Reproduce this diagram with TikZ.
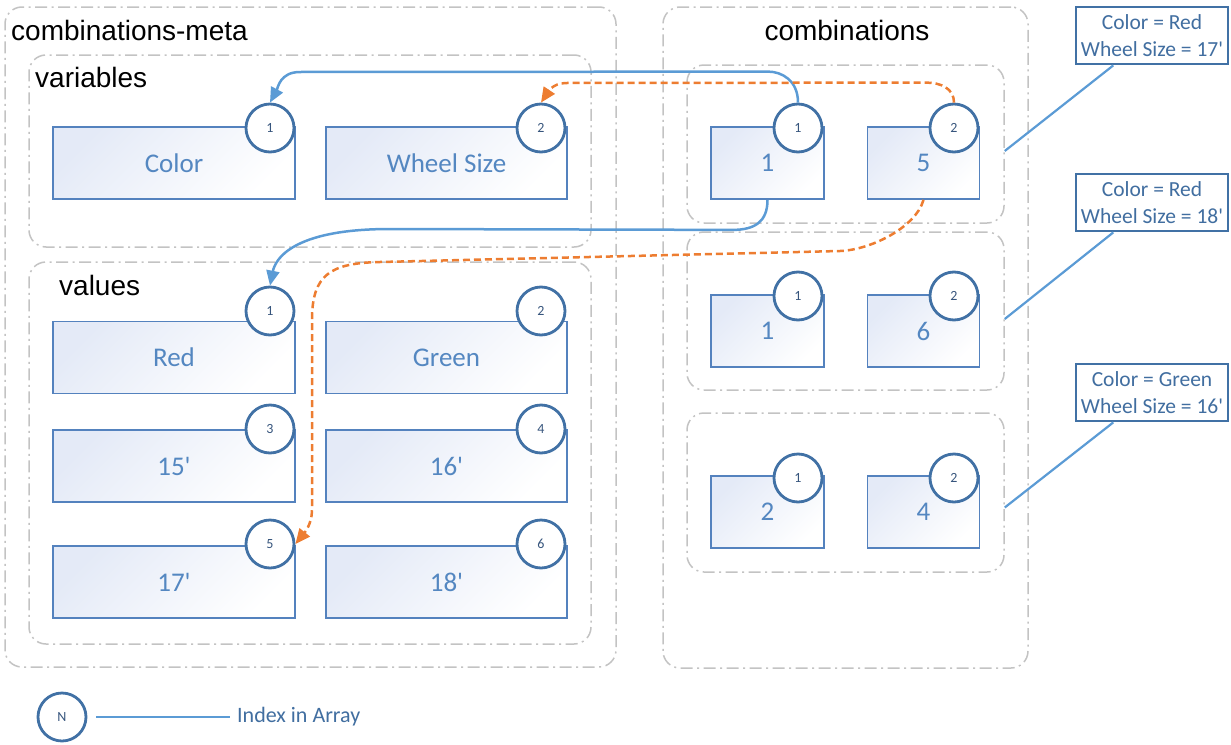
\documentclass[tikz,border=0pt]{standalone}
\usepackage{fontspec}
\setmainfont{Carlito}
\newfontfamily\calf{Carlito}
\newfontfamily\arialf{Liberation Sans}
\usetikzlibrary{arrows.meta,calc}
\definecolor{rectblue}{RGB}{84,130,190}
\definecolor{circblue}{RGB}{65,113,165}
\definecolor{txtblue}{RGB}{84,135,193}
\definecolor{numc}{RGB}{55,85,125}
\definecolor{fillb}{RGB}{228,234,247}
\definecolor{grp}{RGB}{195,195,195}
\definecolor{conblue}{RGB}{91,155,213}
\definecolor{orng}{RGB}{237,125,49}
\definecolor{lbltxt}{RGB}{65,110,160}
\begin{document}
\begin{tikzpicture}[
  x=1pt,y=-1pt,
  grpbox/.style={draw=grp, line width=1.5pt, rounded corners=17pt,
    dash pattern=on 12pt off 4.5pt on 2pt off 4.5pt, inner sep=0pt},
  valbox/.style={draw=rectblue, line width=1.8pt, top color=fillb, bottom color=white,
    shading angle=45, text=txtblue, font=\calf\fontsize{27}{32}\selectfont, inner sep=0pt,
    minimum height=72pt},
  idx/.style={circle, draw=circblue, line width=2.8pt, fill=white, minimum size=48pt,
    inner sep=0pt, text=numc, font=\calf\fontsize{14}{16}\selectfont},
  ttl/.style={font=\arialf\fontsize{28}{32}\selectfont, inner sep=0pt},
  lblbox/.style={draw=circblue, line width=2.8pt, fill=white, text=lbltxt, align=center,
    font=\calf\fontsize{21.5}{27}\selectfont, inner sep=0pt, minimum width=152pt, minimum height=57pt},
  conn/.style={draw=conblue, line width=2.2pt},
  bluearrow/.style={draw=conblue, line width=2.5pt, -{Triangle[length=15pt,width=13pt]}},
  orarrow/.style={draw=orng, line width=2.5pt, dash pattern=on 7pt off 4pt,
    -{Triangle[length=15pt,width=13pt]}}
]
\useasboundingbox (0,0) rectangle (1231,744);

% group boxes
\node[grpbox, minimum width=611pt, minimum height=660pt] (meta) at (310.5,337) {};
\node[grpbox, minimum width=562pt, minimum height=192pt] (vars) at (310,151) {};
\node[grpbox, minimum width=562pt, minimum height=382pt] (vals) at (310,453) {};
\node[grpbox, minimum width=365pt, minimum height=661pt] (comb) at (845.5,337.5) {};
\node[grpbox, minimum width=317pt, minimum height=158pt] (g1) at (845.5,144) {};
\node[grpbox, minimum width=317pt, minimum height=158pt] (g2) at (845.5,311) {};
\node[grpbox, minimum width=317pt, minimum height=159pt] (g3) at (845.5,492.5) {};

% titles
\node[ttl, anchor=west] (tmeta) at (11,30) {combinations-meta};
\node[ttl, anchor=west] (tvars) at (35,77) {variables};
\node[ttl, anchor=west] (tvals) at (59,285) {values};
\node[ttl] (tcomb) at (847,30) {combinations};

% variables
\node[valbox, minimum width=242pt] (r-color) at (174,163) {Color};
\node[valbox, minimum width=241pt] (r-wheel) at (446.5,163) {Wheel Size};
\node[idx] (c-color) at (270,128) {1};
\node[idx] (c-wheel) at (541,128) {2};

% values
\node[valbox, minimum width=242pt] (r-red) at (174,357.5) {Red};
\node[valbox, minimum width=241pt] (r-green) at (446.5,357.5) {Green};
\node[valbox, minimum width=242pt] (r-15) at (174,466) {15'};
\node[valbox, minimum width=241pt] (r-16) at (446.5,466) {16'};
\node[valbox, minimum width=242pt] (r-17) at (174,582) {17'};
\node[valbox, minimum width=241pt] (r-18) at (446.5,582) {18'};
\node[idx] (c-red) at (270,311) {1};
\node[idx] (c-green) at (541,311) {2};
\node[idx] (c-15) at (270,429) {3};
\node[idx] (c-16) at (541,429) {4};
\node[idx] (c-17) at (270,544) {5};
\node[idx] (c-18) at (541,544) {6};

% combinations
\node[valbox, minimum width=113pt] (r-g1a) at (767.5,163) {1};
\node[valbox, minimum width=112pt] (r-g1b) at (923.5,163) {5};
\node[idx] (c-g1a) at (798,128) {1};
\node[idx] (c-g1b) at (954,128) {2};
\node[valbox, minimum width=113pt] (r-g2a) at (767.5,331) {1};
\node[valbox, minimum width=112pt] (r-g2b) at (923.5,331) {6};
\node[idx] (c-g2a) at (798,296) {1};
\node[idx] (c-g2b) at (954,296) {2};
\node[valbox, minimum width=113pt] (r-g3a) at (767.5,512) {2};
\node[valbox, minimum width=112pt] (r-g3b) at (923.5,512) {4};
\node[idx] (c-g3a) at (798,478) {1};
\node[idx] (c-g3b) at (954,478) {2};

% label boxes
\node[lblbox] (lb1) at (1152,35.5) {Color = Red\\Wheel Size = 17'};
\node[lblbox] (lb2) at (1152,202.5) {Color = Red\\Wheel Size = 18'};
\node[lblbox] (lb3) at (1152,392.5) {Color = Green\\Wheel Size = 16'};
\draw[conn] ($(lb1.south west)!0.25!(lb1.south east)$) -- ($(g1.east)+(0,7)$);
\draw[conn] ($(lb2.south west)!0.25!(lb2.south east)$) -- ($(g2.east)+(0,8)$);
\draw[conn] ($(lb3.south west)!0.25!(lb3.south east)$) -- ($(g3.east)+(0,15)$);

% arrows
\draw[bluearrow] (c-g1a.north) .. controls +(0,-22) and +(14,0) .. ++(-30,-31)
  -- (300,72) .. controls +(-20,0) and +(8,-15) .. (c-color.north);
\draw[orarrow] (c-g1b.north) .. controls +(0,-14) and +(15,0) .. ++(-28,-20)
  -- (566,83) .. controls +(-14,0) and +(6,-9) .. (c-wheel.north);
\draw[bluearrow] (r-g1a.south) .. controls +(0,22) and +(22,0) .. ++(-35,30)
  -- (390,229) .. controls +(-100,0) and +(5,-25) .. (c-red.north);
\draw[orarrow] (r-g1b.south) .. controls +(-8,28) and +(30,-1) .. (840,251)
  -- (380,262) .. controls +(-50,1) and +(0,-45) .. (312,320)
  -- (312,510) .. controls +(0,15) and +(8,-10) .. (c-17.east);

% legend
\node[idx] (leg) at (62,717) {N};
\node[anchor=west, inner sep=0pt, text=lbltxt, font=\calf\fontsize{22}{26}\selectfont] (legtxt) at (237,717) {Index in Array};
\draw[conn] ($(leg.east)+(9,0)$) -- ($(legtxt.west)+(-7,0)$);
\end{tikzpicture}
\end{document}
